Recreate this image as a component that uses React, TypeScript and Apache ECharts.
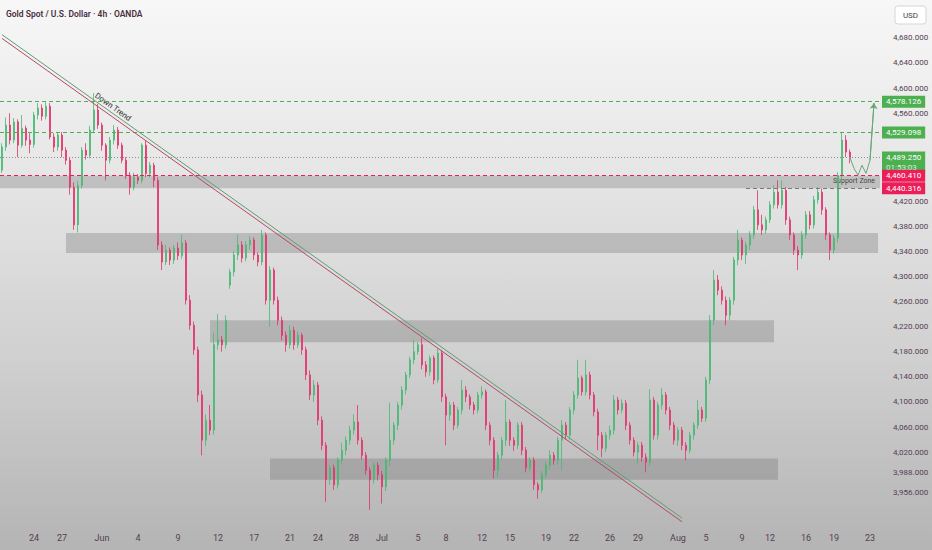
import React, { useEffect, useRef } from "react";
import * as echarts from "echarts";

// ---- candles [open, close, low, high] (4h) ----
const mayCandles: number[][] = [
  [4469, 4506, 4465, 4512], [4506, 4541, 4500, 4553], [4541, 4517, 4510, 4560], [4517, 4546, 4512, 4552],
  [4546, 4509, 4490, 4550], [4509, 4536, 4505, 4557], [4536, 4517, 4508, 4540], [4517, 4510, 4496, 4528],
  [4510, 4557, 4505, 4562], [4557, 4568, 4550, 4576], [4568, 4555, 4548, 4574], [4555, 4571, 4550, 4578],
  [4571, 4522, 4518, 4576], [4522, 4506, 4498, 4528], [4506, 4525, 4500, 4530], [4525, 4501, 4490, 4530],
  [4501, 4485, 4478, 4506], [4485, 4442, 4430, 4490], [4442, 4382, 4374, 4450], [4382, 4445, 4370, 4452],
  [4445, 4501, 4440, 4506], [4501, 4493, 4486, 4512], [4493, 4533, 4488, 4540], [4533, 4565, 4528, 4592],
  [4565, 4541, 4535, 4575],
];
const juneCandles: number[][] = [
  [4541, 4509, 4500, 4545], [4509, 4485, 4453, 4512], [4485, 4517, 4480, 4522], [4517, 4533, 4510, 4541],
  [4533, 4509, 4503, 4538], [4509, 4485, 4480, 4513], [4485, 4461, 4455, 4490], [4461, 4442, 4430, 4466],
  [4442, 4458, 4437, 4465], [4458, 4453, 4447, 4463], [4453, 4509, 4448, 4512], [4509, 4464, 4458, 4517],
  [4464, 4477, 4458, 4482], [4477, 4453, 4442, 4481], [4453, 4350, 4342, 4458], [4350, 4323, 4310, 4356],
  [4323, 4342, 4318, 4350], [4342, 4326, 4318, 4346], [4326, 4345, 4320, 4350], [4345, 4333, 4326, 4354],
  [4333, 4353, 4328, 4366], [4353, 4262, 4255, 4358], [4262, 4222, 4215, 4270], [4222, 4183, 4175, 4228],
  [4183, 4111, 4100, 4188], [4111, 4039, 4015, 4118], [4039, 4071, 4030, 4080], [4071, 4055, 4047, 4095],
  [4055, 4191, 4048, 4210], [4191, 4199, 4183, 4240], [4199, 4191, 4180, 4205], [4191, 4230, 4185, 4238],
  [4286, 4307, 4280, 4312], [4307, 4334, 4300, 4340], [4334, 4350, 4326, 4366], [4350, 4329, 4322, 4356],
  [4329, 4350, 4324, 4356], [4350, 4358, 4342, 4364], [4358, 4334, 4326, 4362], [4334, 4323, 4316, 4338],
  [4323, 4366, 4318, 4374], [4366, 4262, 4255, 4370], [4262, 4310, 4220, 4316], [4310, 4262, 4255, 4314],
  [4262, 4230, 4222, 4268], [4230, 4206, 4198, 4236], [4206, 4191, 4180, 4212], [4191, 4214, 4185, 4222],
  [4214, 4191, 4183, 4220], [4191, 4206, 4186, 4212], [4206, 4183, 4175, 4210], [4183, 4143, 4135, 4188],
  [4143, 4111, 4103, 4150], [4111, 4127, 4100, 4135], [4127, 4071, 4063, 4132], [4071, 4031, 4023, 4077],
  [4031, 3976, 3941, 4036], [3976, 3995, 3968, 4000], [3995, 3968, 3960, 4000], [3968, 4007, 3962, 4012],
  [4007, 4023, 4000, 4035], [4023, 4039, 4015, 4045], [4039, 4055, 4032, 4062], [4055, 4068, 4048, 4080],
  [4068, 4039, 4032, 4095], [4039, 4015, 4008, 4044], [4015, 3991, 3984, 4020], [3991, 3976, 3928, 3996],
  [3976, 3999, 3970, 4004], [3999, 3984, 3975, 4004],
];
const julyCandles: number[][] = [
  [3984, 3965, 3938, 3990], [3965, 4007, 3958, 4012], [4007, 4039, 3998, 4099], [4039, 4063, 4032, 4068],
  [4063, 4095, 4055, 4100], [4095, 4119, 4088, 4125], [4119, 4143, 4112, 4148], [4143, 4167, 4138, 4172],
  [4167, 4180, 4160, 4199], [4180, 4191, 4175, 4195], [4191, 4159, 4152, 4202], [4159, 4148, 4140, 4165],
  [4148, 4170, 4142, 4174], [4170, 4135, 4128, 4174], [4135, 4178, 4130, 4185], [4178, 4108, 4100, 4182],
  [4108, 4079, 4031, 4113], [4079, 4095, 4070, 4100], [4095, 4063, 4055, 4100], [4063, 4087, 4058, 4092],
  [4087, 4119, 4080, 4135], [4119, 4108, 4100, 4125], [4108, 4095, 4088, 4112], [4095, 4087, 4080, 4100],
  [4087, 4111, 4082, 4116], [4111, 4116, 4105, 4125], [4116, 4063, 4055, 4120], [4063, 4039, 4031, 4068],
  [4039, 3991, 3978, 4044], [3991, 4015, 3980, 4020], [4015, 4039, 4008, 4044], [4039, 4068, 4030, 4103],
  [4068, 4039, 4030, 4072], [4039, 4031, 4022, 4044], [4031, 4063, 4025, 4068], [4063, 4023, 4015, 4068],
  [4023, 3995, 3988, 4028], [3995, 4007, 3990, 4012], [4007, 3968, 3960, 4012], [3968, 3960, 3946, 3972],
  [3960, 3984, 3955, 3990], [3984, 3999, 3978, 4004], [3999, 4015, 3992, 4023], [4015, 4007, 4000, 4020],
  [4007, 4039, 4000, 4044], [4039, 4063, 3991, 4071], [4063, 4047, 4040, 4068], [4047, 4087, 4040, 4092],
  [4087, 4111, 4080, 4117], [4111, 4138, 4105, 4167], [4138, 4116, 4110, 4142], [4116, 4143, 4110, 4167],
  [4143, 4111, 4104, 4148], [4111, 4084, 4077, 4116], [4084, 4047, 4023, 4089], [4047, 4026, 4012, 4052],
  [4026, 4047, 4020, 4052], [4047, 4055, 4040, 4062], [4055, 4103, 4048, 4111], [4103, 4087, 4080, 4108],
  [4087, 4098, 4082, 4104], [4098, 4063, 4055, 4103], [4063, 4039, 4032, 4068], [4039, 4020, 4013, 4044],
  [4020, 4031, 4002, 4036], [4031, 4012, 4005, 4036], [4012, 4004, 3988, 4018], [4004, 4103, 3998, 4120],
  [4103, 4047, 4040, 4108], [4047, 4095, 4040, 4100], [4095, 4111, 4088, 4122], [4111, 4087, 4080, 4116],
  [4087, 4063, 4055, 4092], [4063, 4039, 4032, 4068],
];
const augustCandles: number[][] = [
  [4039, 4055, 4030, 4060], [4055, 4031, 4023, 4060], [4031, 4023, 4007, 4036], [4023, 4047, 4018, 4052],
  [4047, 4063, 4040, 4068], [4063, 4087, 4057, 4103], [4087, 4074, 4068, 4092], [4074, 4135, 4068, 4140],
  [4135, 4230, 4128, 4238], [4230, 4294, 4222, 4310], [4294, 4278, 4270, 4302], [4278, 4262, 4255, 4284],
  [4262, 4238, 4222, 4268], [4238, 4262, 4230, 4267], [4262, 4326, 4255, 4331], [4326, 4358, 4318, 4374],
  [4358, 4334, 4326, 4362], [4334, 4350, 4320, 4355], [4350, 4366, 4342, 4372], [4366, 4406, 4360, 4412],
  [4406, 4382, 4374, 4437], [4382, 4374, 4366, 4398], [4374, 4390, 4368, 4395], [4390, 4414, 4385, 4420],
  [4414, 4434, 4408, 4445], [4434, 4414, 4408, 4453], [4414, 4437, 4408, 4453], [4437, 4390, 4382, 4442],
  [4390, 4366, 4358, 4395], [4366, 4342, 4334, 4370], [4342, 4334, 4310, 4348], [4334, 4366, 4328, 4372],
  [4366, 4398, 4360, 4404], [4398, 4382, 4375, 4404], [4382, 4422, 4376, 4428], [4422, 4434, 4416, 4442],
  [4434, 4406, 4398, 4440], [4406, 4366, 4358, 4410], [4366, 4342, 4326, 4370], [4342, 4361, 4336, 4366],
  [4361, 4461, 4354, 4466], [4461, 4517, 4455, 4530], [4517, 4498, 4490, 4525], [4498, 4489.25, 4480, 4502],
];

// projected path drawn after the last candle
const projectionStart = 212;
const projectionPath = [4489.25, 4472, 4461, 4477, 4464, 4485, 4576];

// time axis
const categoryCount = 220;
const dayTickIndex = [8, 15, 25, 34, 44, 54, 63, 72, 79, 88, 95, 104, 111, 120, 127, 136, 143, 152, 159, 169, 176, 185, 192, 201, 208, 217];
const dayTickText = ["24", "27", "Jun", "4", "9", "12", "17", "21", "24", "28", "Jul", "5", "8", "12", "15", "19", "22", "26", "29", "Aug", "5", "9", "12", "16", "19", "23"];

// price axis
const priceTicks = [4680, 4640, 4600, 4560, 4420, 4380, 4340, 4300, 4260, 4220, 4180, 4140, 4100, 4060, 4020, 3988, 3956];
const priceMin = 3908.7;
const priceMax = 4740.2;

// levels
const targetLevel = 4578.126;
const resistanceLevel = 4529.098;
const lastPrice = 4489.25;
const countdown = "01:53:03";
const supportTop = 4460.41;
const supportBottom = 4440.316;

// zones [startIndex, endIndex, top, bottom]
const zoneBands: number[][] = [
  [16, 219, 4369, 4337],
  [52, 193, 4230, 4195],
  [67, 194, 4010, 3976],
];

// trend lines [startIndex, startPrice, endIndex, endPrice]
const trendLower = [0, 4679, 170, 3909];
const trendUpper = [0, 4685, 170, 3915];

const UP = "#47b974";
const DOWN = "#e2336a";
const TAG_GREEN = "#4caf50";
const TAG_RED = "#ec1e5a";
const TEXT = "#55404f";
const FONT = "Roboto, 'Noto Sans', sans-serif";

function fmt(v: number): string {
  const [i, d] = v.toFixed(3).split(".");
  return i.replace(/\B(?=(\d{3})+(?!\d))/g, ",") + "." + d;
}

function tag(color: string, text: string, extra: any = {}) {
  return {
    show: true,
    position: "end",
    distance: 2,
    formatter: text,
    color: "#fff",
    backgroundColor: color,
    padding: [2, 4, 2, 4],
    fontSize: 8,
    fontFamily: FONT,
    ...extra,
  };
}

export default function App() {
  const ref = useRef<HTMLDivElement>(null);

  useEffect(() => {
    document.body.style.margin = "0";
    if (!ref.current) return;
    const chart = echarts.init(ref.current, undefined, { renderer: "svg" });

    const candles = [...mayCandles, ...juneCandles, ...julyCandles, ...augustCandles];
    const categories = Array.from({ length: categoryCount }, (_, i) => "k" + i);
    const labelByCat: Record<string, string> = {};
    dayTickIndex.forEach((idx, j) => (labelByCat["k" + idx] = dayTickText[j]));
    const tickSet = new Set(dayTickIndex);

    const projection: (number | null)[] = Array.from({ length: categoryCount }, () => null);
    projectionPath.forEach((v, j) => (projection[projectionStart + j] = v));
    const pLast = projectionStart + projectionPath.length - 1;

    const zoneData: any[] = zoneBands.map((z) => [
      { coord: [z[0], z[2]] },
      { coord: [z[1], z[3]] },
    ]);
    zoneData.push([{ yAxis: supportTop }, { yAxis: supportBottom }]);

    const option: any = {
      animation: false,
      backgroundColor: "transparent",
      grid: { left: 0, right: 52, top: 0, bottom: 28 },
      xAxis: {
        type: "category",
        data: categories,
        boundaryGap: true,
        axisLine: { show: false },
        axisTick: { show: false },
        splitLine: { show: false },
        axisLabel: {
          interval: (i: number) => tickSet.has(i),
          formatter: (v: string) => labelByCat[v] || "",
          color: TEXT,
          fontSize: 9,
          fontFamily: FONT,
          margin: 11,
        },
      },
      yAxis: {
        type: "value",
        position: "right",
        min: priceMin,
        max: priceMax,
        splitLine: { show: false },
        axisLine: { show: false },
        axisTick: { show: false },
        axisLabel: {
          customValues: priceTicks,
          formatter: (v: number) => fmt(v),
          color: TEXT,
          fontSize: 8,
          fontFamily: FONT,
          margin: 13,
        },
      },
      series: [
        {
          type: "candlestick",
          data: candles,
          barWidth: 2.2,
          itemStyle: { color: UP, color0: DOWN, borderColor: UP, borderColor0: DOWN, borderWidth: 0.8 },
          markArea: {
            silent: true,
            itemStyle: { color: "rgba(105,105,105,0.3)" },
            data: zoneData,
          },
          markLine: {
            silent: true,
            symbol: ["none", "none"],
            data: [
              { yAxis: targetLevel, lineStyle: { color: TAG_GREEN, type: [4, 3], width: 1 }, label: tag(TAG_GREEN, fmt(targetLevel)) },
              { yAxis: resistanceLevel, lineStyle: { color: TAG_GREEN, type: [4, 3], width: 1 }, label: tag(TAG_GREEN, fmt(resistanceLevel)) },
              {
                yAxis: lastPrice,
                lineStyle: { color: "#8d8d8d", type: [1, 2], width: 1 },
                label: tag(TAG_GREEN, `{a|${fmt(lastPrice)}}\n{b|${countdown}}`, {
                  offset: [0, 5],
                  padding: [1, 4, 1, 4],
                  rich: {
                    a: { color: "#fff", fontSize: 8, lineHeight: 10, fontFamily: FONT },
                    b: { color: "#d8f3dc", fontSize: 8, lineHeight: 10, fontFamily: FONT },
                  },
                }),
              },
              { yAxis: supportTop, lineStyle: { color: TAG_RED, type: [4, 3], width: 1 }, label: tag(TAG_RED, fmt(supportTop)) },
              { yAxis: supportBottom, lineStyle: { color: "rgba(0,0,0,0)", width: 1 }, label: tag(TAG_RED, fmt(supportBottom)) },
              [
                { coord: [186, supportBottom], lineStyle: { color: "#7a7a7a", type: [4, 3], width: 1 }, label: { show: false } },
                { coord: [categoryCount - 1, supportBottom] },
              ],
            ],
          },
        },
        {
          type: "line",
          data: projection,
          symbol: "none",
          connectNulls: false,
          lineStyle: { color: "#6aa67b", width: 1 },
          z: 5,
          markLine: {
            silent: true,
            symbol: ["none", "none"],
            label: { show: false },
            data: [
              [
                { coord: [trendLower[0], trendLower[1]], lineStyle: { color: "#b5486a", width: 1, type: "solid" } },
                { coord: [trendLower[2], trendLower[3]] },
              ],
              [
                { coord: [trendUpper[0], trendUpper[1]], lineStyle: { color: "#5e9e70", width: 1, type: "solid" } },
                { coord: [trendUpper[2], trendUpper[3]] },
              ],
              [
                { coord: [pLast - 1, projectionPath[projectionPath.length - 2]], symbol: "none", lineStyle: { color: "#6aa67b", width: 1, type: "solid" } },
                { coord: [pLast, projectionPath[projectionPath.length - 1]], symbol: "arrow", symbolSize: 6 },
              ],
            ],
          },
        },
      ],
      graphic: [
        {
          type: "text",
          left: 6,
          top: 9,
          style: { text: "Gold Spot / U.S. Dollar · 4h · OANDA", fill: "#4a2d40", fontSize: 8.5, fontWeight: 600, fontFamily: FONT },
        },
        {
          type: "rect",
          shape: { x: 895, y: 6, width: 31, height: 18, r: 3 },
          style: { fill: "#ffffff", stroke: "#d6d6d6", lineWidth: 1 },
        },
        {
          type: "text",
          x: 910.5,
          y: 15,
          style: { text: "USD", fill: "#444", fontSize: 8, fontFamily: FONT, align: "center", verticalAlign: "middle" },
        },
        {
          type: "text",
          x: 113,
          y: 107,
          rotation: -0.62,
          style: { text: "Down Trend", fill: "#333", fontSize: 8, fontFamily: FONT, align: "center", verticalAlign: "middle" },
        },
        {
          type: "text",
          x: 854,
          y: 181,
          style: { text: "Support Zone", fill: "#333", fontSize: 7, fontFamily: FONT, align: "center", verticalAlign: "middle" },
        },
      ],
    };

    chart.setOption(option);
    return () => chart.dispose();
  }, []);

  return (
    <div
      ref={ref}
      style={{
        width: 932,
        height: 550,
        background: "linear-gradient(180deg, #f7f7f7 0%, #e7e7e7 30%, #d0d0d0 65%, #b4b4b4 100%)",
      }}
    />
  );
}
